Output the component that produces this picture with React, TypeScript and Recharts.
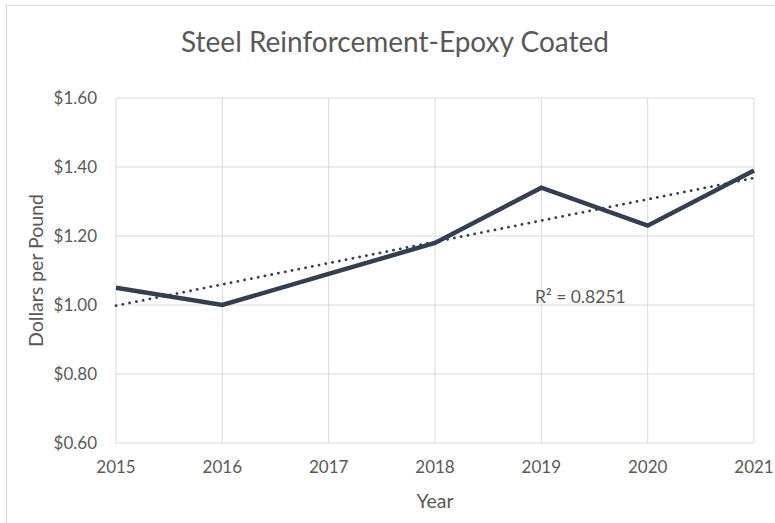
import React from 'react';
import { LineChart, Line, XAxis, YAxis, CartesianGrid, ReferenceDot } from 'recharts';

const years = ['2015', '2016', '2017', '2018', '2019', '2020', '2021'];
const prices = [1.05, 1.0, 1.09, 1.18, 1.34, 1.23, 1.39];
// linear trendline, read at both ends
const trendEnds = [0.998, 1.368];
const yTicks = [0.6, 0.8, 1.0, 1.2, 1.4, 1.6];

const FONT = 'Lato, "Open Sans", sans-serif';
const TEXT = '#595959';
const LINE = '#333F50';
const GRID = '#D9D9D9';

const data = years.map((year, i) => ({
  year,
  price: prices[i],
  trend: i === 0 ? trendEnds[0] : i === years.length - 1 ? trendEnds[1] : null,
}));

const App: React.FC = () => {
  return (
    <div style={{ position: 'absolute', left: 0, top: 0, width: 775, height: 523, overflow: 'hidden', background: '#fff', fontFamily: FONT }}>
      <div style={{ position: 'absolute', left: 6, top: 5, width: 820, height: 600, border: `1px solid ${GRID}` }} />
      <div style={{ position: 'absolute', left: 0, top: 24, width: 790, textAlign: 'center', fontSize: 28, color: TEXT }}>
        Steel Reinforcement-Epoxy Coated
      </div>
      <LineChart width={775} height={523} data={data} margin={{ top: 98, right: 21, left: 0, bottom: 20 }} style={{ position: 'absolute', left: 0, top: 0 }}>
        <CartesianGrid stroke={GRID} strokeWidth={1} />
        <XAxis
          dataKey="year"
          axisLine={false}
          tickLine={false}
          tickSize={0}
          tickMargin={18}
          height={60}
          tick={{ fill: TEXT, fontSize: 17, fontFamily: FONT }}
          label={({ viewBox }: any) => (
            <text x={viewBox.x + viewBox.width / 2} y={500} textAnchor="middle" dominantBaseline="central" fill={TEXT} fontSize={19.5} fontFamily={FONT}>
              Year
            </text>
          )}
        />
        <YAxis
          domain={[0.6, 1.6]}
          ticks={yTicks}
          width={116}
          axisLine={false}
          tickLine={false}
          tickSize={0}
          tickMargin={19}
          tickFormatter={(v: number) => `$${v.toFixed(2)}`}
          tick={{ fill: TEXT, fontSize: 17, fontFamily: FONT }}
          label={({ viewBox }: any) => (
            <text transform={`translate(35, ${viewBox.y + viewBox.height / 2}) rotate(-90)`} textAnchor="middle" dominantBaseline="central" fill={TEXT} fontSize={19.5} fontFamily={FONT}>
              Dollars per Pound
            </text>
          )}
        />
        <Line dataKey="price" stroke={LINE} strokeWidth={4.5} dot={false} isAnimationActive={false} strokeLinejoin="miter" />
        <Line dataKey="trend" stroke={LINE} strokeWidth={2.8} strokeDasharray="0.1 6.8" strokeLinecap="round" dot={false} connectNulls isAnimationActive={false} />
        <ReferenceDot
          x="2019"
          y={1.0}
          r={0}
          fill="none"
          stroke="none"
          label={({ viewBox }: any) => (
            <text x={viewBox.x + 39} y={viewBox.y - 9} textAnchor="middle" dominantBaseline="central" fill={TEXT} fontSize={17.5} fontFamily={FONT}>
              R² = 0.8251
            </text>
          )}
        />
      </LineChart>
    </div>
  );
};

export default App;
